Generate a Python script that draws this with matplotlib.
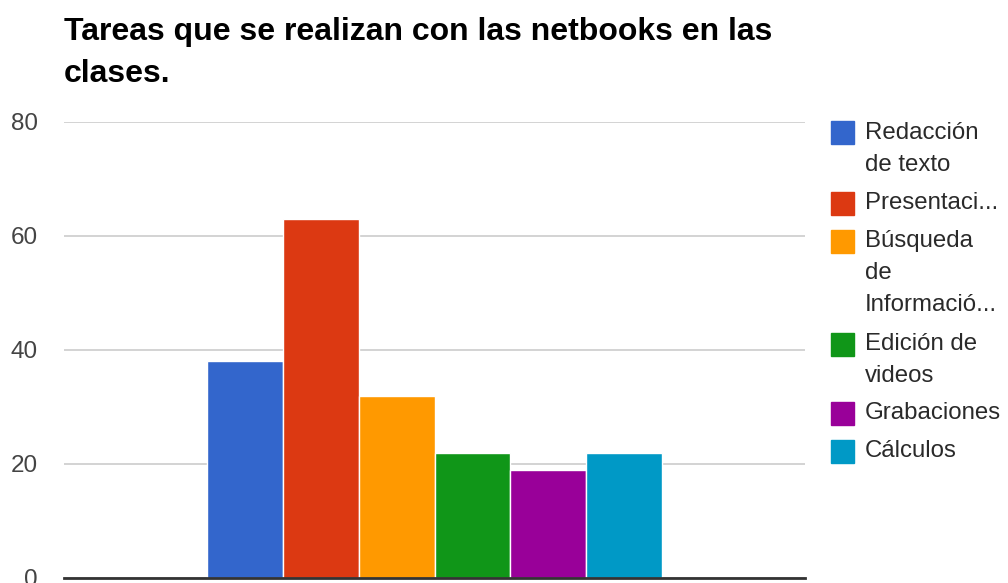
import matplotlib
matplotlib.use('Agg')
import matplotlib.pyplot as plt
from matplotlib.patches import Rectangle

plt.rcParams['font.family'] = ['Liberation Sans', 'DejaVu Sans']

# data
title_lines = ['Tareas que se realizan con las netbooks en las', 'clases.']
series = ['Redacción de texto', 'Presentaciones', 'Búsqueda de Información',
          'Edición de videos', 'Grabaciones', 'Cálculos']
legend_lines = [['Redacción', 'de texto'], ['Presentaci...'],
                ['Búsqueda', 'de', 'Informació...'], ['Edición de', 'videos'],
                ['Grabaciones'], ['Cálculos']]
values = [38, 63, 32, 22, 19, 22]
colors = ['#3366CC', '#DC3912', '#FF9900', '#109618', '#990099', '#0099C6']
yticks = [0, 20, 40, 60, 80]

W, H = 1008, 583
fig = plt.figure(figsize=(W / 100, H / 100), dpi=100)
ax = fig.add_axes([64 / W, 1 - 578 / H, 741 / W, 456 / H])

group = 0.614
w = group / len(values)
for i, (v, c) in enumerate(zip(values, colors)):
    x = (i - (len(values) - 1) / 2) * w
    ax.bar(x, v, width=w, color=c, edgecolor='white', linewidth=1, zorder=2)

ax.set_xlim(-0.5, 0.5)
ax.set_ylim(0, 80)
ax.set_yticks(yticks)
ax.set_xticks([])
ax.yaxis.grid(True, color='#cccccc', lw=1.2, zorder=0)
ax.axhline(0, color='#333333', lw=2, zorder=3, clip_on=False)
for s in ax.spines.values():
    s.set_visible(False)
ax.tick_params(axis='y', length=0, pad=19, labelsize=17.5, labelcolor='#444444')

# title
fig.text(64 / W, 1 - 40 / H, title_lines[0], fontsize=23, fontweight='bold',
         va='baseline', ha='left', color='#000000')
fig.text(64 / W, 1 - 82 / H, title_lines[1], fontsize=23, fontweight='bold',
         va='baseline', ha='left', color='#000000')

# legend
centers = [133, 203, 241, 344, 413, 451]
sq = 23
for lines, c, yc in zip(legend_lines, colors, centers):
    fig.patches.append(Rectangle((831 / W, 1 - (yc + sq / 2) / H), sq / W, sq / H,
                                 transform=fig.transFigure, color=c))
    for k, t in enumerate(lines):
        fig.text(865 / W, 1 - (yc + 32 * k) / H, t, fontsize=17.3,
                 va='center', ha='left', color='#2a2a2a')

plt.savefig('out.png', dpi=100)
